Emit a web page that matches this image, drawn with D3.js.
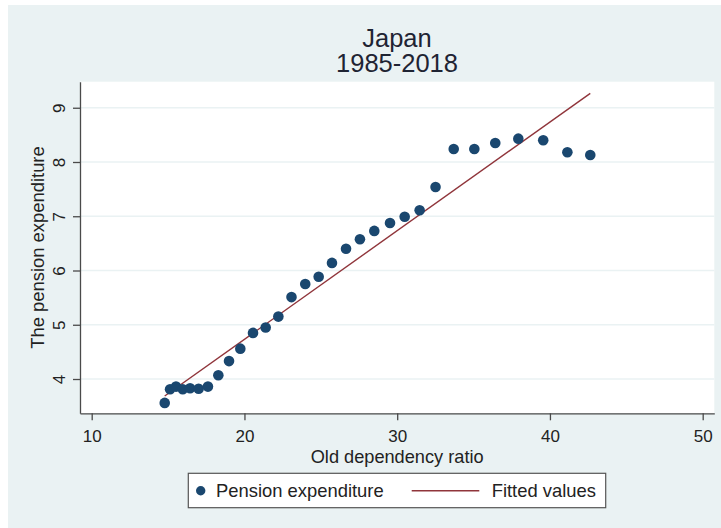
<!DOCTYPE html>
<html>
<head>
<meta charset="utf-8">
<script src="https://cdn.jsdelivr.net/npm/d3@7"></script>
<style>
  html, body { margin: 0; padding: 0; background: #ffffff; }
  svg { display: block; font-family: "Liberation Sans", Arial, sans-serif; }
</style>
</head>
<body>
<svg id="chart" width="721" height="528"></svg>
<script>
// ---- data ----
const titleLines = ["Japan", "1985-2018"];
const ratio = [14.78, 15.13, 15.52, 15.96, 16.44, 17.00, 17.61, 18.29, 18.99, 19.73,
               20.56, 21.39, 22.22, 23.08, 23.98, 24.86, 25.73, 26.65, 27.56, 28.50,
               29.53, 30.49, 31.47, 32.51, 33.70, 35.05, 36.42, 37.93, 39.56, 41.14, 42.64];
const pension = [3.56, 3.81, 3.86, 3.81, 3.83, 3.82, 3.86, 4.07, 4.33, 4.56,
                 4.85, 4.95, 5.15, 5.51, 5.75, 5.885, 6.14, 6.40, 6.575, 6.73,
                 6.875, 6.99, 7.11, 7.54, 8.24, 8.24, 8.35, 8.43, 8.40, 8.18, 8.13];
const fitX = [14.78, 42.64];
const fitY = [3.687, 9.265];
const xTicks = [10, 20, 30, 40, 50];
const yTicks = [4, 5, 6, 7, 8, 9];
const xLabel = "Old dependency ratio";
const yLabel = "The pension expenditure";
const legendLabels = ["Pension expenditure", "Fitted values"];

// ---- layout ----
const svg = d3.select("#chart");
const plot = { left: 80, right: 714.3, top: 81.7, bottom: 413.3 };
const colDot = "#1a476f", colLine = "#90353b", colBg = "#eaf2f3", colAxis = "#4a4a4a", colText = "#222222";

const x = d3.scaleLinear().domain([9.234, 50.76]).range([plot.left, plot.right]);
const y = d3.scaleLinear().domain([3.368, 9.48]).range([plot.bottom, plot.top]);

// outer background
svg.append("rect").attr("x", 8).attr("y", 5).attr("width", 721 - 8).attr("height", 528 - 5).attr("fill", colBg);
// plot region
svg.append("rect").attr("x", plot.left).attr("y", plot.top)
  .attr("width", plot.right - plot.left).attr("height", plot.bottom - plot.top).attr("fill", "#ffffff");

// grid lines
svg.append("g").selectAll("line").data(yTicks).join("line")
  .attr("x1", plot.left).attr("x2", plot.right)
  .attr("y1", d => y(d)).attr("y2", d => y(d))
  .attr("stroke", colBg).attr("stroke-width", 1.6);

// title
svg.append("g").selectAll("text").data(titleLines).join("text")
  .attr("x", 397).attr("y", (d, i) => [46.7, 72.3][i])
  .attr("text-anchor", "middle").attr("font-size", 25.5).attr("fill", "#1f2433")
  .text(d => d);

// x axis
const xAxis = svg.append("g").attr("transform", `translate(0,${plot.bottom})`)
  .call(d3.axisBottom(x).tickValues(xTicks).tickSize(7).tickSizeOuter(0).tickFormat(d3.format("d")));
xAxis.select(".domain").attr("stroke", colAxis).attr("stroke-width", 1.3);
xAxis.selectAll(".tick line").attr("stroke", colAxis).attr("stroke-width", 1.3);
xAxis.selectAll(".tick text").attr("y", 28.6).attr("dy", 0)
  .attr("font-size", 17).attr("fill", colText).attr("font-family", "Liberation Sans, Arial, sans-serif");

// y axis
const yAxis = svg.append("g").attr("transform", `translate(${plot.left},0)`)
  .call(d3.axisLeft(y).tickValues(yTicks).tickSize(7).tickSizeOuter(0).tickFormat(d3.format("d")));
yAxis.select(".domain").attr("stroke", colAxis).attr("stroke-width", 1.3);
yAxis.selectAll(".tick line").attr("stroke", colAxis).attr("stroke-width", 1.3);
yAxis.selectAll(".tick text")
  .attr("transform", "rotate(-90)").attr("x", 0).attr("y", -15).attr("dy", 0)
  .attr("text-anchor", "middle")
  .attr("font-size", 17).attr("fill", colText).attr("font-family", "Liberation Sans, Arial, sans-serif");

// axis titles
svg.append("text").attr("x", (plot.left + plot.right) / 2).attr("y", 462.5)
  .attr("text-anchor", "middle").attr("font-size", 18.2).attr("fill", colText).text(xLabel);
svg.append("text")
  .attr("transform", `translate(43.5,${(plot.top + plot.bottom) / 2}) rotate(-90)`)
  .attr("text-anchor", "middle").attr("font-size", 18.4).attr("fill", colText).text(yLabel);

// fitted line
svg.append("path")
  .datum(fitX.map((d, i) => [d, fitY[i]]))
  .attr("d", d3.line().x(d => x(d[0])).y(d => y(d[1])))
  .attr("fill", "none").attr("stroke", colLine).attr("stroke-width", 1.4);

// points
svg.append("g").selectAll("circle").data(ratio.map((d, i) => [d, pension[i]])).join("circle")
  .attr("cx", d => x(d[0])).attr("cy", d => y(d[1])).attr("r", 5.3)
  .attr("fill", colDot);

// legend
const lg = svg.append("g");
lg.append("rect").attr("x", 188.3).attr("y", 473.3).attr("width", 605.7 - 188.3).attr("height", 507.7 - 473.3)
  .attr("fill", "#ffffff").attr("stroke", "#555555").attr("stroke-width", 1.2);
lg.append("circle").attr("cx", 200.7).attr("cy", 490.7).attr("r", 4.7).attr("fill", colDot);
lg.append("text").attr("x", 216).attr("y", 497).attr("font-size", 18.4).attr("fill", colText).text(legendLabels[0]);
lg.append("line").attr("x1", 411.7).attr("x2", 479.3).attr("y1", 490.7).attr("y2", 490.7)
  .attr("stroke", colLine).attr("stroke-width", 1.4);
lg.append("text").attr("x", 491.7).attr("y", 497).attr("font-size", 18.4).attr("fill", colText).text(legendLabels[1]);
</script>
</body>
</html>
